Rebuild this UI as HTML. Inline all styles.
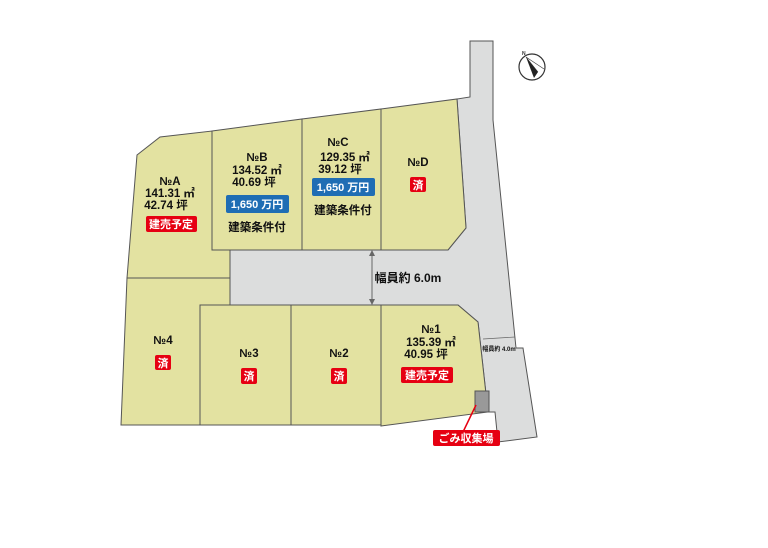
<!DOCTYPE html>
<html><head><meta charset="utf-8"><style>
body{margin:0;background:#fff}
svg text{font-family:"Liberation Sans","Noto Sans CJK JP",sans-serif;font-weight:bold}
</style></head><body>
<svg width="768" height="543" viewBox="0 0 768 543" xmlns="http://www.w3.org/2000/svg">
<g stroke="#555" stroke-width="1">
<polygon fill="#dcdddd" points="470,41 493,41 493,120 516,348 523,348 537,437 498,442 495,412 488,412 478,322 458,305 230,305 230,250 448,250 466,228 457,99 470,97"/>
<g fill="#e3e2a1">
<polygon points="137,155 160,137 212,131 212,250 230,250 230,278 127,278"/>
<polygon points="212,131 302,119 302,250 212,250"/>
<polygon points="302,119 381,109 381,250 302,250"/>
<polygon points="381,109 457,99 466,228 448,250 381,250"/>
<polygon points="127,278 230,278 230,305 200,305 200,425 121,425"/>
<polygon points="200,305 291,305 291,425 200,425"/>
<polygon points="291,305 381,305 381,425 291,425"/>
<polygon points="381,305 458,305 478,322 488,412 381,426"/>
</g>
<rect x="475" y="391" width="14" height="21" fill="#999"/>
</g>
<line x1="372" y1="252" x2="372" y2="303" stroke="#666"/>
<polygon points="369,256 375,256 372,250" fill="#666"/><polygon points="369,299 375,299 372,305" fill="#666"/>
<line x1="483" y1="339" x2="515" y2="337" stroke="#666" stroke-width="0.7"/>
<line x1="476" y1="405" x2="463" y2="432" stroke="#e60012" stroke-width="1.5"/>
<g transform="translate(532,67)"><circle r="13" fill="none" stroke="#333" stroke-width="1.2"/><polygon points="-6,-10 2,11 6,5" fill="#222"/><line x1="-6" y1="-10" x2="12" y2="2" stroke="#333" stroke-width="0.6"/><line x1="-6" y1="-10" x2="6" y2="5" stroke="#333" stroke-width="0.6"/><text x="-10" y="-12" font-size="5" fill="#333">N</text></g>
<g font-size="11.5" fill="#111" text-anchor="middle">
<text x="170" y="185">№A</text><text x="170" y="197">141.31 ㎡</text><text x="166" y="209">42.74 坪</text>
<text x="257" y="161">№B</text><text x="257" y="174">134.52 ㎡</text><text x="254" y="186">40.69 坪</text>
<text x="338" y="146">№C</text><text x="345" y="161">129.35 ㎡</text><text x="340" y="173">39.12 坪</text>
<text x="418" y="166">№D</text>
<text x="163" y="344">№4</text><text x="249" y="357">№3</text><text x="339" y="357">№2</text>
<text x="431" y="333">№1</text><text x="431" y="346">135.39 ㎡</text><text x="426" y="358">40.95 坪</text>
<text x="257" y="231">建築条件付</text><text x="343" y="214">建築条件付</text>
<text x="408" y="282" font-size="12">幅員約 6.0m</text>
<text x="499" y="351" font-size="6">幅員約 4.0m</text>
</g>
<g fill="#e60012">
<rect x="146" y="216" width="51" height="16" rx="2"/><rect x="410" y="177" width="16" height="15" rx="2"/>
<rect x="155" y="355" width="16" height="15" rx="2"/><rect x="241" y="368" width="16" height="16" rx="2"/><rect x="331" y="368" width="16" height="16" rx="2"/>
<rect x="401" y="367" width="52" height="16" rx="2"/><rect x="433" y="430" width="67" height="16" rx="2"/>
</g>
<g fill="#1f6db4"><rect x="226" y="195" width="63" height="18" rx="2"/><rect x="312" y="178" width="63" height="18" rx="2"/></g>
<g font-size="11" fill="#fff" text-anchor="middle">
<text x="171" y="228">建売予定</text><text x="418" y="189">済</text><text x="163" y="367">済</text><text x="249" y="380">済</text><text x="339" y="380">済</text>
<text x="427" y="379">建売予定</text><text x="466" y="442">ごみ収集場</text>
<text x="257" y="208">1,650 万円</text><text x="343" y="191">1,650 万円</text>
</g>
</svg>
</body></html>
